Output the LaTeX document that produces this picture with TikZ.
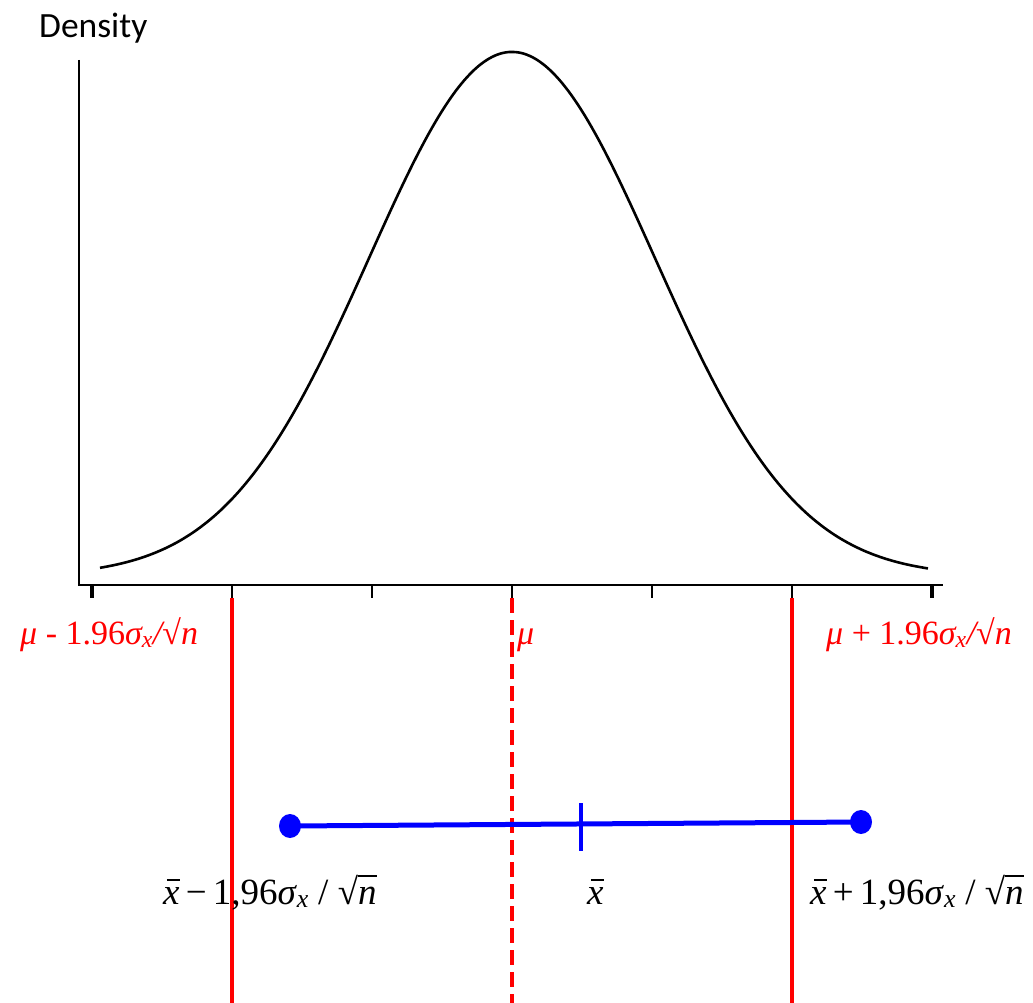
\documentclass[tikz,border=0pt]{standalone}
\usepackage{fontspec}
\usetikzlibrary{shapes.geometric}
\setmainfont{Liberation Serif}[ItalicFont={Liberation Serif Italic}]
\newfontfamily\densityfont{Carlito}
\newcommand\xbarsym{\leavevmode\rlap{\hspace{0.1em}\rule[0.62em]{0.36em}{0.045em}}\textit{x}}
\newcommand\sqrtn{\leavevmode\raisebox{-0.02em}{√}\rlap{\rule[0.74em]{0.52em}{0.045em}}\textit{n}}
\begin{document}
\begin{tikzpicture}[x=1pt,y=-1pt,
  axisline/.style={line width=2pt,black},
  tickmark/.style={line width=2pt,black},
  bigtick/.style={line width=4pt,black},
  curveline/.style={line width=2.6pt,black},
  redline/.style={line width=3.2pt,red},
  reddash/.style={line width=4pt,red,dash pattern=on 15pt off 7pt},
  blueline/.style={line width=5pt,blue},
  bluedot/.style={ellipse,fill=blue,minimum width=22pt,minimum height=24pt,inner sep=0pt},
  redlab/.style={red,font=\fontsize{34}{38}\selectfont,inner sep=0pt},
  blacklab/.style={black,font=\fontsize{37}{40}\selectfont,inner sep=0pt}]
\useasboundingbox (0,0) rectangle (1033,1003);
% Axes
\coordinate (ytop) at (79,60);
\coordinate (origin) at (79,585);
\coordinate (xend) at (943,585);
\draw[axisline] (ytop) -- (origin) -- (xend);
% ticks
\foreach \t in {232,372,512,652,792} \draw[tickmark] (\t,585) -- (\t,598);
\foreach \t in {92,932} \draw[bigtick] (\t,585) -- (\t,598);
% curve
\draw[curveline] plot[domain=100:928,samples=240,smooth] (\x,{576-524*exp(-0.5*((\x-512)/143)^2)});
% density label
\node[anchor=base west,inner sep=0pt,font=\densityfont\fontsize{35.5}{40}\selectfont] (dens) at (39,38) {Density};
% red lines
\coordinate (l1) at (232,598); \coordinate (l2) at (232,1003);
\coordinate (r1) at (792,598); \coordinate (r2) at (792,1003);
\coordinate (m1) at (512,598); \coordinate (m2) at (512,1003);
\draw[redline] (l1) -- (l2);
\draw[redline] (r1) -- (r2);
\draw[reddash] (m1) -- (m2);
% red labels
\node[redlab,anchor=base west] (lowmu) at (20,644) {\itshape μ\upshape{} - 1.96\itshape σ\textsubscript{x}/√n};
\node[redlab,anchor=base west] (mu) at (517,644) {\itshape μ};
\node[redlab,anchor=base west] (highmu) at (826,644) {\itshape μ\upshape{} + 1.96\itshape σ\textsubscript{x}/√n};
% blue interval
\node[bluedot] (L) at (290,826) {};
\node[bluedot] (R) at (861,822) {};
\draw[blueline] (L.center) -- (R.center);
\coordinate (xt1) at (581,803); \coordinate (xt2) at (581,851);
\draw[line width=4pt,blue] (xt1) -- (xt2);
% black labels
\node[blacklab,anchor=base west] (lowx) at (163,904) {\xbarsym\,−\,1,96\textit{σ}\textsubscript{\itshape x} / \sqrtn};
\node[blacklab,anchor=base west] (xbar) at (587,904) {\xbarsym};
\node[blacklab,anchor=base west] (highx) at (810,904) {\xbarsym\,+\,1,96\textit{σ}\textsubscript{\itshape x} / \sqrtn};
\end{tikzpicture}
\end{document}
